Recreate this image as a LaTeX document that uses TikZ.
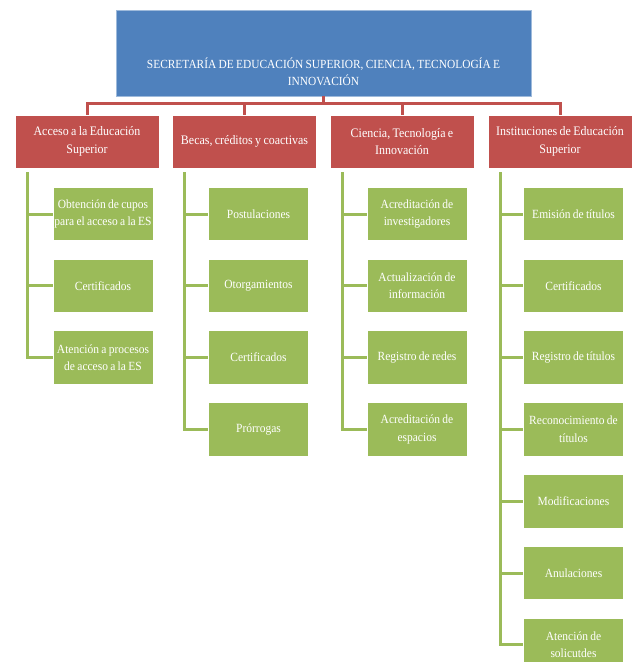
\documentclass[tikz,border=0pt]{standalone}
\usepackage{fontspec}
\setmainfont{Liberation Serif}[FakeStretch=0.92,WordSpace=0.8]
\usetikzlibrary{positioning,calc}
\definecolor{secblue}{HTML}{4F81BD}
\definecolor{deptred}{HTML}{C0504D}
\definecolor{itemgreen}{HTML}{9BBB59}

\begin{document}
\begin{tikzpicture}[x=1pt,y=-1pt,
      sec/.style={draw=secblue!55!white, fill=secblue, line width=0.8pt, minimum width=415pt, minimum height=86pt},
      sectext/.style={text=white, align=center, inner sep=0pt, font=\fontsize{12.4}{17}\selectfont},
      dept/.style={draw=white, fill=deptred, line width=0.8pt, minimum width=144pt, minimum height=53pt, inner sep=1pt, align=center, text=white, font=\fontsize{13}{17.5}\selectfont},
      item/.style={draw=white, fill=itemgreen, line width=0.8pt, minimum width=100pt, minimum height=53.5pt, inner sep=0.5pt, align=center, text=white, font=\fontsize{12.5}{17.5}\selectfont},
      rline/.style={draw=deptred, line width=3pt},
      gline/.style={draw=itemgreen, line width=3pt},
      node distance=17.5pt
    ]
    \fill[white] (0,0) rectangle (633,662);
    \useasboundingbox (0,0) rectangle (633,662);

    \node[sec] (sec) at (323.5,53) {};
    \node[sectext] (sectxt) at ([yshift=-18.5pt]sec.center) {SECRETARÍA DE EDUCACIÓN SUPERIOR, CIENCIA, TECNOLOGÍA E\\INNOVACIÓN};

    \node[dept] (acc) at (87,141.5) {Acceso a la Educación\\Superior};
    \node[dept] (bec) at (244.5,141.5) {Becas, créditos y coactivas};
    \node[dept] (cti) at (402,141.5) {Ciencia, Tecnología e\\Innovación};
    \node[dept] (ies) at (560,141.5) {Instituciones de Educación\\Superior};

    \draw[rline] (sec.south) -- ++(0,7) -| (acc.north);
    \draw[rline] (sec.south) -- ++(0,7) -| (bec.north);
    \draw[rline] (sec.south) -- ++(0,7) -| (cti.north);
    \draw[rline] (sec.south) -- ++(0,7) -| (ies.north);

    \node[item] (acc1) at (103,214) {Obtención de cupos\\para el acceso a la ES};
    \node[item] (acc2) [below=of acc1] {Certificados};
    \node[item] (acc3) [below=of acc2] {Atención a procesos\\de acceso a la ES};

    \node[item] (bec1) at (258.5,214) {Postulaciones};
    \node[item] (bec2) [below=of bec1] {Otorgamientos};
    \node[item] (bec3) [below=of bec2] {Certificados};
    \node[item] (bec4) [below=of bec3] {Prórrogas};

    \node[item] (cti1) at (417,214) {Acreditación de\\investigadores};
    \node[item] (cti2) [below=of cti1] {Actualización de\\información};
    \node[item] (cti3) [below=of cti2] {Registro de redes};
    \node[item] (cti4) [below=of cti3] {Acreditación de\\espacios};

    \node[item] (ies1) at (573.5,214) {Emisión de títulos};
    \node[item] (ies2) [below=of ies1] {Certificados};
    \node[item] (ies3) [below=of ies2] {Registro de títulos};
    \node[item] (ies4) [below=of ies3] {Reconocimiento de\\títulos};
    \node[item] (ies5) [below=of ies4] {Modificaciones};
    \node[item] (ies6) [below=of ies5] {Anulaciones};
    \node[item] (ies7) [below=of ies6] {Atención de\\solicutdes};

    \draw[gline] ([xshift=13pt,yshift=-4pt]acc.south west) |- (acc1.west);
    \draw[gline] ([xshift=13pt,yshift=-4pt]acc.south west) |- (acc2.west);
    \draw[gline] ([xshift=13pt,yshift=-4pt]acc.south west) |- (acc3.west);

    \draw[gline] ([xshift=12pt,yshift=-4pt]bec.south west) |- (bec1.west);
    \draw[gline] ([xshift=12pt,yshift=-4pt]bec.south west) |- (bec2.west);
    \draw[gline] ([xshift=12pt,yshift=-4pt]bec.south west) |- (bec3.west);
    \draw[gline] ([xshift=12pt,yshift=-4pt]bec.south west) |- (bec4.west);

    \draw[gline] ([xshift=13pt,yshift=-4pt]cti.south west) |- (cti1.west);
    \draw[gline] ([xshift=13pt,yshift=-4pt]cti.south west) |- (cti2.west);
    \draw[gline] ([xshift=13pt,yshift=-4pt]cti.south west) |- (cti3.west);
    \draw[gline] ([xshift=13pt,yshift=-4pt]cti.south west) |- (cti4.west);

    \draw[gline] ([xshift=13pt,yshift=-4pt]ies.south west) |- (ies1.west);
    \draw[gline] ([xshift=13pt,yshift=-4pt]ies.south west) |- (ies2.west);
    \draw[gline] ([xshift=13pt,yshift=-4pt]ies.south west) |- (ies3.west);
    \draw[gline] ([xshift=13pt,yshift=-4pt]ies.south west) |- (ies4.west);
    \draw[gline] ([xshift=13pt,yshift=-4pt]ies.south west) |- (ies5.west);
    \draw[gline] ([xshift=13pt,yshift=-4pt]ies.south west) |- (ies6.west);
    \draw[gline] ([xshift=13pt,yshift=-4pt]ies.south west) |- (ies7.west);
  \end{tikzpicture}
\end{document}
